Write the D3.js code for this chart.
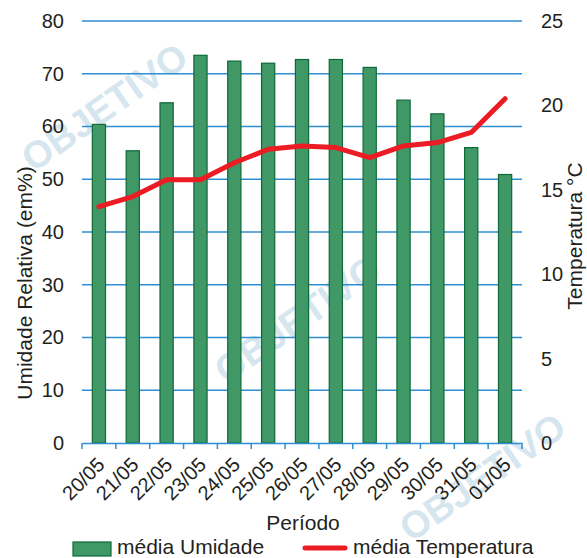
<!DOCTYPE html>
<html>
<head>
<meta charset="utf-8">
<script src="https://cdn.jsdelivr.net/npm/d3@7"></script>
<style>
  body { margin: 0; background: #fff; }
  svg { display: block; font-family: "Liberation Sans", Arial, sans-serif; }
</style>
</head>
<body>
<div id="chart"></div>
<script>
// ---- data ----
var dias = ['20/05', '21/05', '22/05', '23/05', '24/05', '25/05', '26/05', '27/05', '28/05', '29/05', '30/05', '31/05', '01/05'];
var umidade = [60.4, 55.4, 64.5, 73.5, 72.4, 72.0, 72.7, 72.7, 71.2, 65.0, 62.4, 56.0, 50.9];
var temperatura = [14.0, 14.6, 15.6, 15.6, 16.6, 17.4, 17.6, 17.5, 16.9, 17.6, 17.8, 18.4, 20.4];
var umidadeTicks = [0, 10, 20, 30, 40, 50, 60, 70, 80];
var tempTicks = [0, 5, 10, 15, 20, 25];

var width = 587, height = 558;
var plotLeft = 82, plotRight = 522, plotTop = 21, plotBottom = 443;

var gridColor = '#2f8fd2';
var textColor = '#231f20';

var svg = d3.select('#chart').append('svg')
	.attr('width', width)
	.attr('height', height);

// watermarks (faint logo text)
var marks = [[112, 118, -35], [305, 330, -35], [490, 488, -35]];
marks.forEach(function (m) {
	svg.append('text')
		.attr('transform', 'translate(' + m[0] + ',' + m[1] + ') rotate(' + m[2] + ')')
		.attr('text-anchor', 'middle')
		.style('font-size', '38px')
		.style('font-weight', 'bold')
		.style('fill', '#d5e6ef')
		.text('OBJETIVO');
});

var x = d3.scaleBand()
	.domain(dias)
	.range([plotLeft, plotRight])
	.paddingInner(0.61)
	.paddingOuter(0.305);

var y = d3.scaleLinear().domain([0, 80]).range([plotBottom, plotTop]);
var y2 = d3.scaleLinear().domain([0, 25]).range([plotBottom, plotTop]);

// gridlines
svg.append('g')
	.selectAll('line')
	.data(umidadeTicks.slice(1))
	.enter().append('line')
	.attr('x1', plotLeft)
	.attr('x2', plotRight)
	.attr('y1', function (d) { return y(d); })
	.attr('y2', function (d) { return y(d); })
	.attr('stroke', gridColor)
	.attr('stroke-width', 1.5);

// bars
svg.append('g')
	.selectAll('rect')
	.data(umidade)
	.enter().append('rect')
	.attr('x', function (d, i) { return x(dias[i]); })
	.attr('y', function (d) { return y(d); })
	.attr('width', x.bandwidth())
	.attr('height', function (d) { return plotBottom - y(d); })
	.attr('fill', '#409866')
	.attr('stroke', '#0d6a38')
	.attr('stroke-width', 1.2);

// bottom axis
var xAxis = d3.axisBottom(x).tickSize(0).tickFormat('');
var gx = svg.append('g').attr('transform', 'translate(0,' + plotBottom + ')').call(xAxis);
gx.select('.domain').attr('stroke', gridColor).attr('stroke-width', 1.5);

var step = x.step();
var bounds = d3.range(dias.length + 1).map(function (i) { return plotLeft + i * step; });
gx.selectAll('.sep')
	.data(bounds)
	.enter().append('line')
	.attr('class', 'sep')
	.attr('x1', function (d) { return d; })
	.attr('x2', function (d) { return d; })
	.attr('y1', 0)
	.attr('y2', 6)
	.attr('stroke', gridColor)
	.attr('stroke-width', 1.5);

// x labels
svg.append('g')
	.selectAll('text')
	.data(dias)
	.enter().append('text')
	.attr('transform', function (d) {
		return 'translate(' + (x(d) + x.bandwidth() / 2 + 7) + ',466) rotate(-45)';
	})
	.attr('text-anchor', 'end')
	.style('font-size', '20px')
	.style('fill', textColor)
	.text(function (d) { return d; });

// left axis labels
var yAxis = d3.axisLeft(y).tickValues(umidadeTicks).tickSize(0).tickPadding(18);
var gy = svg.append('g').attr('transform', 'translate(' + plotLeft + ',0)').call(yAxis);
gy.select('.domain').remove();
gy.selectAll('text').style('font-size', '20px').style('fill', textColor)
	.style('font-family', '"Liberation Sans", Arial, sans-serif');

// right axis labels
var yAxis2 = d3.axisRight(y2).tickValues(tempTicks).tickSize(0).tickPadding(19);
var gy2 = svg.append('g').attr('transform', 'translate(' + plotRight + ',0)').call(yAxis2);
gy2.select('.domain').remove();
gy2.selectAll('text').style('font-size', '20px').style('fill', textColor)
	.style('font-family', '"Liberation Sans", Arial, sans-serif');

// temperature line
var line = d3.line()
	.x(function (d, i) { return x(dias[i]) + x.bandwidth() / 2; })
	.y(function (d) { return y2(d); });

svg.append('path')
	.datum(temperatura)
	.attr('d', line)
	.attr('fill', 'none')
	.attr('stroke', '#ec1c24')
	.attr('stroke-width', 5)
	.attr('stroke-linejoin', 'round')
	.attr('stroke-linecap', 'round');

// axis titles
svg.append('text')
	.attr('transform', 'translate(32,283) rotate(-90)')
	.attr('text-anchor', 'middle')
	.style('font-size', '21px')
	.style('fill', textColor)
	.text('Umidade Relativa (em%)');

svg.append('text')
	.attr('transform', 'translate(582,236) rotate(-90)')
	.attr('text-anchor', 'middle')
	.style('font-size', '21px')
	.style('fill', textColor)
	.text('Temperatura °C');

svg.append('text')
	.attr('x', 303)
	.attr('y', 530)
	.attr('text-anchor', 'middle')
	.style('font-size', '21px')
	.style('fill', textColor)
	.text('Período');

// legend
svg.append('rect')
	.attr('x', 73).attr('y', 542)
	.attr('width', 38).attr('height', 14)
	.attr('fill', '#409866')
	.attr('stroke', '#0d6a38')
	.attr('stroke-width', 1.2);
svg.append('text')
	.attr('x', 117).attr('y', 554)
	.style('font-size', '21px')
	.style('fill', textColor)
	.text('média Umidade');

svg.append('line')
	.attr('x1', 305).attr('x2', 345)
	.attr('y1', 548).attr('y2', 548)
	.attr('stroke', '#ec1c24')
	.attr('stroke-width', 5)
	.attr('stroke-linecap', 'round');
svg.append('text')
	.attr('x', 353).attr('y', 554)
	.style('font-size', '21px')
	.style('fill', textColor)
	.text('média Temperatura');
</script>
</body>
</html>
